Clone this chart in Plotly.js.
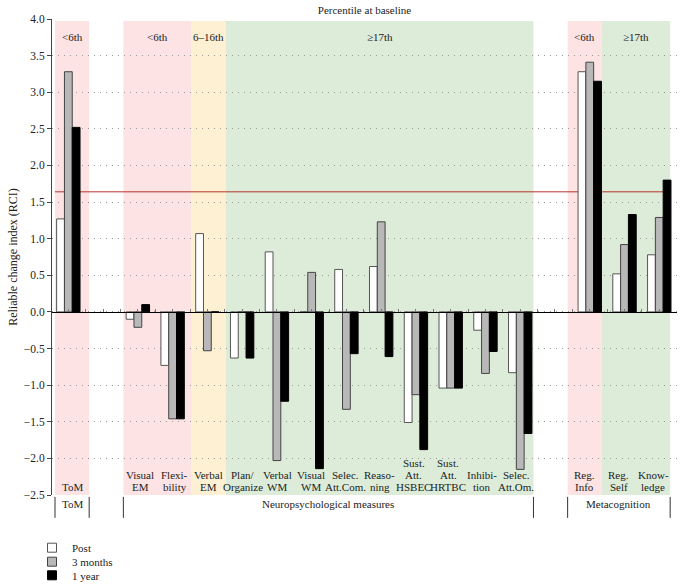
<!DOCTYPE html>
<html>
<head>
<meta charset="utf-8">
<script src="https://cdn.plot.ly/plotly-3.0.1.min.js"></script>
<style>html,body{margin:0;padding:0;background:#fff}#chart{width:684px;height:588px}</style>
</head>
<body>
<div id="chart"></div>
<script>
// ---- data ----
var categories = ['ToM', '', 'Visual\nEM', 'Flexi-\nbility', 'Verbal\nEM', 'Plan/\nOrganize', 'Verbal\nWM',
  'Visual\nWM', 'Selec.\nAtt.Com.', 'Reaso-\nning', 'Sust.\nAtt.\nHSBEC', 'Sust.\nAtt.\nHRTBC', 'Inhibi-\ntion',
  'Selec.\nAtt.Om.', '', 'Reg.\nInfo', 'Reg.\nSelf', 'Know-\nledge'];
var post    = [1.27, null, -0.10, -0.73, 1.07, -0.63, 0.82, 0, 0.58, 0.62, -1.51, -1.04, -0.25, -0.83, null, 3.28, 0.52, 0.78];
var months3 = [3.28, null, -0.21, -1.46, -0.53, 0, -2.03, 0.54, -1.33, 1.23, -1.13, -1.04, -0.84, -2.15, null, 3.41, 0.92, 1.29];
var year1   = [2.52, null, 0.10, -1.46, 0, -0.63, -1.22, -2.14, -0.57, -0.61, -1.88, -1.04, -0.54, -1.66, null, 3.15, 1.33, 1.80];
var seriesNames = ['Post', '3 months', '1 year'];
var rciThreshold = 1.64;

var bandStart  = [0, 2, 4, 5, 15, 16];
var bandEnd    = [1, 4, 5, 14, 16, 18];
var bandLabels = ['<6th', '<6th', '6–16th', '≥17th', '<6th', '≥17th'];

var groupBounds = [0, 1, 2, 14, 15, 18];
var groupLabels = ['ToM', '', 'Neuropsychological measures', '', 'Metacognition'];

// ---- styling ----
var FONT = 'Liberation Serif, Times New Roman, serif';
var bandColors = {'<6th': '#fde3e3', '6–16th': '#fdf0d3', '≥17th': '#ddecd9'};
var fills = ['#ffffff', '#b8b8b8', '#000000'];
var edges = ['#555555', '#444444', '#000000'];
var legendIds = ['legend', 'legend2', 'legend3'];

var xs = categories.map(function (c, i) { return i; });
var series = [post, months3, year1];
var traces = [];
series.forEach(function (vals, k) {
  traces.push({
    type: 'bar', x: xs, y: vals, name: seriesNames[k], legendgroup: 's' + k, showlegend: false,
    marker: {color: fills[k], line: {color: edges[k], width: 1}},
    hoverinfo: 'y'
  });
});
// legend entries (small square swatches, same series)
series.forEach(function (vals, k) {
  traces.push({
    type: 'scatter', mode: 'markers', x: [null], y: [null], name: seriesNames[k], legendgroup: 's' + k,
    legend: legendIds[k], showlegend: true, hoverinfo: 'skip',
    marker: {symbol: 'square', size: 9, color: fills[k], line: {color: edges[k], width: 1}}
  });
});
// invisible trace to anchor the slot axis
traces.push({type: 'scatter', x: [], y: [], xaxis: 'x2', yaxis: 'y', showlegend: false, hoverinfo: 'skip'});

var shapes = [];
var annotations = [];
bandStart.forEach(function (s, i) {
  shapes.push({type: 'rect', xref: 'x2', yref: 'paper', x0: s, x1: bandEnd[i], y0: 0, y1: 0.996,
    fillcolor: bandColors[bandLabels[i]], line: {width: 0}, layer: 'below'});
  annotations.push({xref: 'x2', yref: 'paper', x: (s + bandEnd[i]) / 2, y: 0.963, text: bandLabels[i],
    showarrow: false, font: {family: FONT, size: 11, color: '#222'}, yanchor: 'middle'});
});
shapes.push({type: 'line', xref: 'x2', yref: 'y', x0: groupBounds[0], x1: groupBounds[groupBounds.length - 1],
  y0: rciThreshold, y1: rciThreshold, line: {color: '#b8322a', width: 1}, layer: 'below'});

categories.forEach(function (c, i) {
  if (!c) return;
  var lines = c.split('\n');
  lines.forEach(function (ln, k) {
    var fromBottom = lines.length - 1 - k;
    annotations.push({xref: 'x2', yref: 'y', x: i + 0.5, y: -2.5, text: ln, showarrow: false,
      yanchor: 'middle', yshift: 8 + fromBottom * 12.2, font: {family: FONT, size: 11, color: '#222'}});
  });
});

groupBounds.forEach(function (b) {
  shapes.push({type: 'line', xref: 'x2', yref: 'paper', x0: b, x1: b, y0: -0.004, y1: -0.048,
    line: {color: '#333', width: 1}});
});
groupLabels.forEach(function (g, i) {
  if (!g) return;
  annotations.push({xref: 'x2', yref: 'paper', x: (groupBounds[i] + groupBounds[i + 1]) / 2, y: -0.019,
    text: g, showarrow: false, yanchor: 'middle', font: {family: FONT, size: 11, color: '#222'}});
});

var halfTicks = [];
for (var t = 0; t <= xs.length - 0.5; t += 0.5) halfTicks.push(t);

function legendAt(yPaper) {
  return {x: -0.032, xanchor: 'left', y: yPaper, yanchor: 'middle', orientation: 'v', itemsizing: 'trace',
    font: {family: FONT, size: 11, color: '#222'}, bgcolor: 'rgba(0,0,0,0)'};
}

var layout = {
  width: 684, height: 588,
  margin: {l: 52, r: 7, t: 19, b: 93, autoexpand: false},
  paper_bgcolor: '#fff', plot_bgcolor: '#fff',
  font: {family: FONT, size: 11, color: '#222'},
  title: {text: 'Percentile at baseline', x: 0.5, xref: 'paper', y: 0.982, yref: 'container',
    yanchor: 'middle', font: {family: FONT, size: 11, color: '#222'}},
  barmode: 'group', bargap: 0.327, bargroupgap: 0,
  showlegend: true,
  legend: legendAt(-0.1107),
  legend2: legendAt(-0.1401),
  legend3: legendAt(-0.1687),
  xaxis: {range: [-0.47, 17.51], anchor: 'free', position: 2.5 / 6.5, showgrid: false, zeroline: false,
    showline: true, linecolor: '#000', linewidth: 1, ticks: 'inside', tickvals: halfTicks, ticklen: 3,
    tickcolor: '#777', showticklabels: false, fixedrange: true},
  xaxis2: {range: [-0.088, 18.2], overlaying: 'x', anchor: 'y', visible: false, fixedrange: true},
  yaxis: {range: [-2.5, 4.0], dtick: 0.5, tick0: 0, tickformat: '.1f', ticks: 'outside', ticklen: 4,
    tickcolor: '#444', showline: true, linecolor: '#444', linewidth: 1, zeroline: false,
    showgrid: true, gridcolor: '#9a9a9a', griddash: '1px,5px', gridwidth: 1,
    tickfont: {family: FONT, size: 11.5, color: '#222'},
    title: {text: 'Reliable change index (RCI)', standoff: 3, font: {family: FONT, size: 12, color: '#222'}},
    automargin: false, fixedrange: true},
  shapes: shapes,
  annotations: annotations
};

Plotly.newPlot('chart', traces, layout, {displayModeBar: false, staticPlot: true});
</script>
</body>
</html>
